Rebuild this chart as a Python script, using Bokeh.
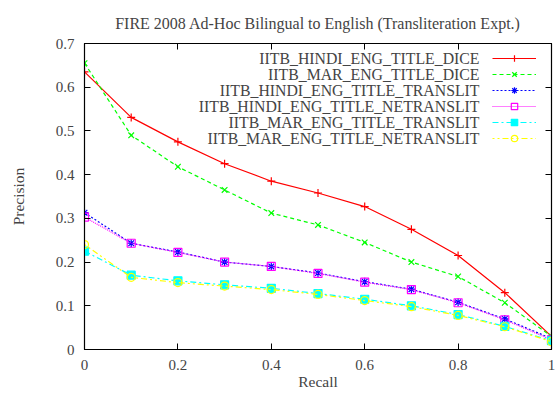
from bokeh.plotting import figure
from bokeh.models import (Range1d, LinearAxis, FixedTicker, Legend, LegendItem, Label)
from bokeh.embed import file_html
from bokeh.resources import INLINE

title_text = "FIRE 2008 Ad-Hoc Bilingual to English (Transliteration Expt.)"
x_label = "Recall"
y_label = "Precision"

recall = [0.0, 0.1, 0.2, 0.3, 0.4, 0.5, 0.6, 0.7, 0.8, 0.9, 1.0]
hindi_dice = [0.635, 0.531, 0.475, 0.425, 0.385, 0.358, 0.327, 0.275, 0.215, 0.130, 0.030]
mar_dice = [0.655, 0.490, 0.418, 0.365, 0.312, 0.285, 0.245, 0.200, 0.167, 0.107, 0.030]
hindi_translit = [0.313, 0.243, 0.223, 0.200, 0.190, 0.175, 0.155, 0.138, 0.108, 0.070, 0.025]
hindi_netranslit = [0.303, 0.243, 0.222, 0.200, 0.190, 0.174, 0.154, 0.137, 0.107, 0.068, 0.022]
mar_translit = [0.225, 0.170, 0.157, 0.148, 0.140, 0.128, 0.115, 0.100, 0.080, 0.053, 0.020]
mar_netranslit = [0.240, 0.165, 0.153, 0.145, 0.137, 0.126, 0.112, 0.098, 0.078, 0.052, 0.018]

series_names = ["IITB_HINDI_ENG_TITLE_DICE", "IITB_MAR_ENG_TITLE_DICE",
                "IITB_HINDI_ENG_TITLE_TRANSLIT", "IITB_HINDI_ENG_TITLE_NETRANSLIT",
                "IITB_MAR_ENG_TITLE_TRANSLIT", "IITB_MAR_ENG_TITLE_NETRANSLIT"]
series_values = [hindi_dice, mar_dice, hindi_translit, hindi_netranslit, mar_translit, mar_netranslit]

x_ticks = [0, 0.2, 0.4, 0.6, 0.8, 1]
x_tick_labels = ["0", "0.2", "0.4", "0.6", "0.8", "1"]
y_ticks = [0, 0.1, 0.2, 0.3, 0.4, 0.5, 0.6, 0.7]
y_tick_labels = ["0", "0.1", "0.2", "0.3", "0.4", "0.5", "0.6", "0.7"]

colors = ["#ff0000", "#00ff00", "#0000ff", "#ff00ff", "#00ffff", "#ffff00"]
dashes = ["solid", "4 3", "2 2", "1 1", "6 3 2 3", "2 3 2 3 6 3"]
markers = ["cross", "x", "asterisk", "square", "square", "circle"]
fills = [None, None, None, None, "#00ffff", None]

FONT = "Liberation Serif"
FS = "15.5px"

p = figure(width=560, height=394, output_backend="svg", toolbar_location=None,
           x_range=Range1d(0, 1), y_range=Range1d(0, 0.7),
           min_border_left=84, min_border_right=9, min_border_top=42, min_border_bottom=45,
           x_axis_location=None, y_axis_location=None)
p.grid.visible = False
p.outline_line_color = "black"
p.outline_line_width = 1.2
p.background_fill_color = "white"
p.border_fill_color = "white"

p.title.text = title_text
p.title.text_font = FONT
p.title.text_font_size = "16px"
p.title.text_font_style = "normal"
p.title.align = "center"
p.title.standoff = 24


def make_axis(ticks, labels, show_labels, axis_label=None):
    ax = LinearAxis(ticker=FixedTicker(ticks=ticks), axis_label=axis_label)
    ax.major_label_overrides = {t: l for t, l in zip(ticks, labels)}
    ax.major_tick_in = 6
    ax.major_tick_out = 0
    ax.minor_tick_line_color = None
    ax.axis_line_color = "black"
    ax.major_tick_line_color = "black"
    ax.major_label_text_font = FONT
    ax.major_label_text_font_size = "15px" if show_labels else "0px"
    ax.major_label_standoff = 10 if show_labels else 0
    ax.axis_label_text_font = FONT
    ax.axis_label_text_font_size = FS
    ax.axis_label_text_font_style = "normal"
    return ax


xb = make_axis(x_ticks, x_tick_labels, True, x_label)
xb.axis_label_standoff = 0
p.add_layout(xb, "below")
yl = make_axis(y_ticks, y_tick_labels, True, y_label)
yl.axis_label_standoff = 26
p.add_layout(yl, "left")
p.add_layout(make_axis(x_ticks, x_tick_labels, False), "above")
p.add_layout(make_axis(y_ticks, y_tick_labels, False), "right")

items = []
for name, vals, c, d, m, f in zip(series_names, series_values, colors, dashes, markers, fills):
    r1 = p.line(recall, vals, line_color=c, line_width=1.2, line_dash=d)
    r2 = p.scatter(recall, vals, marker=m, size=8, line_color=c, line_width=1.2,
                   fill_color=f)
    items.append(LegendItem(label=" ", renderers=[r1, r2]))

legend = Legend(items=items, location=(408, 203), glyph_width=44, glyph_height=16,
                spacing=0, padding=0, margin=0, label_standoff=0, label_width=0,
                label_text_font_size="1px", background_fill_alpha=0,
                border_line_color=None)
p.add_layout(legend, "center")

for i, name in enumerate(series_names):
    p.add_layout(Label(x=395, y=291 - 16 * i, x_units="screen", y_units="screen",
                       text=name, text_align="right", text_baseline="middle",
                       text_font=FONT, text_font_size="15.8px"))

open("out.html", "w").write(file_html(p, INLINE))
